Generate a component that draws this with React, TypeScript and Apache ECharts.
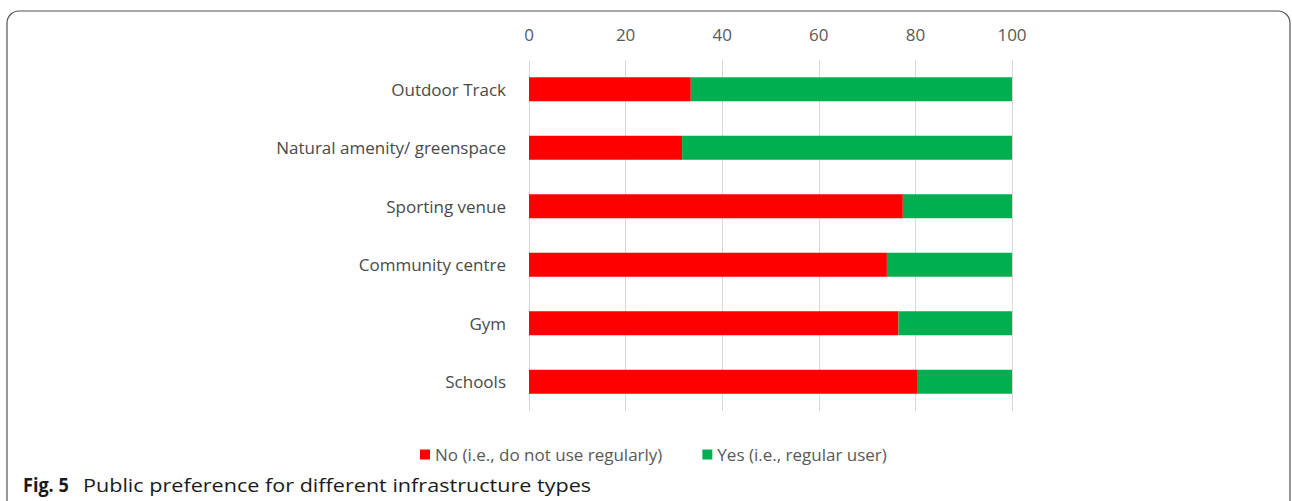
import React, { useEffect, useRef } from "react";
import * as echarts from "echarts";

const categories = [
  "Outdoor Track",
  "Natural amenity/ greenspace",
  "Sporting venue",
  "Community centre",
  "Gym",
  "Schools",
];
const noValues = [33.5, 31.7, 77.4, 74.1, 76.5, 80.5];
const yesValues = [66.5, 68.3, 22.6, 25.9, 23.5, 19.5];
const seriesNames = ["No (i.e., do not use regularly)", "Yes (i.e., regular user)"];
const captionBold = "Fig. 5";
const captionText = "Public preference for different infrastructure types";

const FONT = "'Open Sans', 'Noto Sans', sans-serif";

export default function App() {
  const ref = useRef<HTMLDivElement>(null);
  useEffect(() => {
    if (!ref.current) return;
    const chart = echarts.init(ref.current, undefined, { renderer: "svg" });
    chart.setOption({
      animation: false,
      backgroundColor: "#ffffff",
      textStyle: { fontFamily: FONT },
      grid: { left: 529, top: 60, width: 483, height: 351, containLabel: false },
      xAxis: {
        type: "value",
        position: "top",
        min: 0,
        max: 100,
        interval: 20,
        axisLine: { show: false },
        axisTick: { show: false },
        axisLabel: { fontSize: 17, color: "#595959", margin: 17, fontFamily: FONT },
        splitLine: { lineStyle: { color: "#d9d9d9", width: 1 } },
      },
      yAxis: {
        type: "category",
        inverse: true,
        data: categories,
        axisLine: { show: true, lineStyle: { color: "#d9d9d9" } },
        axisTick: { show: false },
        axisLabel: { fontSize: 17, color: "#4a4a4a", margin: 23, fontFamily: FONT },
      },
      legend: {
        left: 415,
        top: 441,
        icon: "rect",
        itemWidth: 10,
        itemHeight: 10,
        itemGap: 40,
        textStyle: { fontSize: 17, color: "#595959", fontFamily: FONT },
        data: seriesNames,
      },
      series: [
        {
          name: seriesNames[0],
          type: "bar",
          stack: "total",
          data: noValues,
          barCategoryGap: "59%",
          itemStyle: { color: "#ff0000" },
        },
        {
          name: seriesNames[1],
          type: "bar",
          stack: "total",
          data: yesValues,
          barCategoryGap: "59%",
          itemStyle: { color: "#00b050" },
        },
      ],
      graphic: [
        {
          type: "rect",
          shape: { x: 7, y: 11, width: 1283, height: 540, r: [12, 12, 0, 0] },
          style: { fill: "none", stroke: "#555555", lineWidth: 1.2 },
          silent: true,
        },
        {
          type: "text",
          x: 23,
          y: 484.5,
          scaleX: 0.95,
          style: {
            text: captionBold,
            x: 0,
            y: 0,
            verticalAlign: "middle",
            font: "bold 19px 'Open Sans', sans-serif",
            fill: "#1a1a1a",
          },
        },
        {
          type: "text",
          x: 83,
          y: 484.5,
          scaleX: 1.136,
          style: {
            text: captionText,
            x: 0,
            y: 0,
            verticalAlign: "middle",
            font: "19px 'Open Sans', sans-serif",
            fill: "#1a1a1a",
          },
        },
      ],
    });
    return () => chart.dispose();
  }, []);
  return (
    <div
      ref={ref}
      style={{ position: "fixed", left: 0, top: 0, width: 1292, height: 501 }}
    />
  );
}
